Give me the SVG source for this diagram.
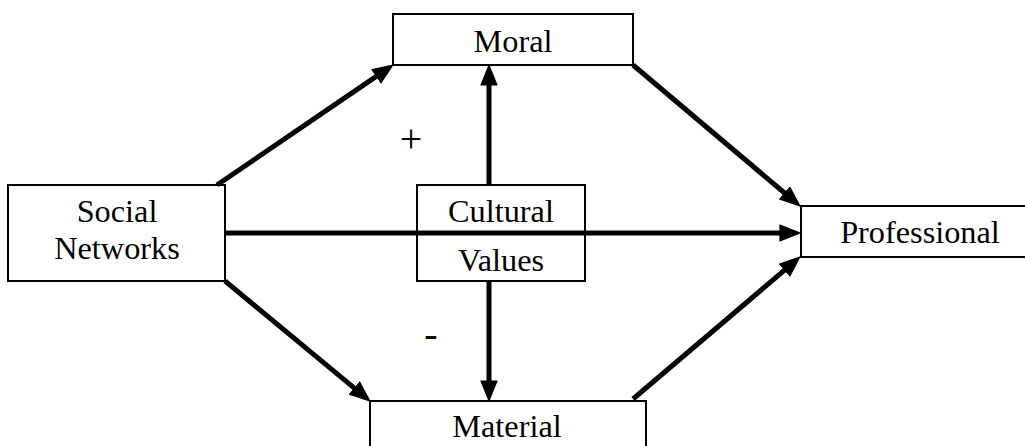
<svg xmlns="http://www.w3.org/2000/svg" width="1025" height="446" viewBox="0 0 1025 446">
<style>
.box{fill:#fff;stroke:#000;stroke-width:2}
.lbl{font-family:"Liberation Serif","Times New Roman",serif;font-size:32.3px;fill:#000;text-anchor:middle}
.sign{font-family:"Liberation Serif","Times New Roman",serif;font-size:40px;fill:#000;text-anchor:middle}
.con{stroke:#000;stroke-width:5;fill:none;marker-end:url(#ah)}
</style>
<defs>
<marker id="ah" markerUnits="userSpaceOnUse" markerWidth="22" markerHeight="18" refX="6" refY="8" orient="auto" viewBox="0 0 20 16">
<path d="M0,0 L20,8 L0,16 z" fill="#000"/>
</marker>
</defs>
<rect width="1025" height="446" fill="#fff"/>
<g id="moral"><rect class="box" x="393" y="14" width="240" height="51"/><text class="lbl" x="513" y="52">Moral</text></g>
<g id="social"><rect class="box" x="8" y="185" width="217" height="96"/><text class="lbl" x="117" y="222">Social</text><text class="lbl" x="117" y="259">Networks</text></g>
<g id="cultural"><rect class="box" x="417" y="185" width="168" height="96"/><text class="lbl" x="501" y="222">Cultural</text><text class="lbl" x="501" y="271">Values</text></g>
<g id="professional"><rect class="box" x="801" y="206" width="230" height="51"/><text class="lbl" x="920" y="243">Professional</text></g>
<g id="material"><rect class="box" x="370" y="401" width="276" height="55"/><text class="lbl" x="507" y="437">Material</text></g>
<g id="connectors">
<line class="con" x1="217" y1="185" x2="381.4" y2="72.9"/>
<line class="con" x1="633" y1="65" x2="789.3" y2="197"/>
<line class="con" x1="225" y1="281" x2="359.2" y2="392.1"/>
<line class="con" x1="633" y1="399" x2="789.3" y2="266.1"/>
<line class="con" x1="225" y1="233" x2="786" y2="233"/>
<line class="con" x1="489" y1="185" x2="489" y2="79"/>
<line class="con" x1="489" y1="281" x2="489" y2="387"/>
</g>
<g id="signs"><text class="sign" x="411" y="152">+</text><text class="sign" x="431" y="347">-</text></g>
</svg>
